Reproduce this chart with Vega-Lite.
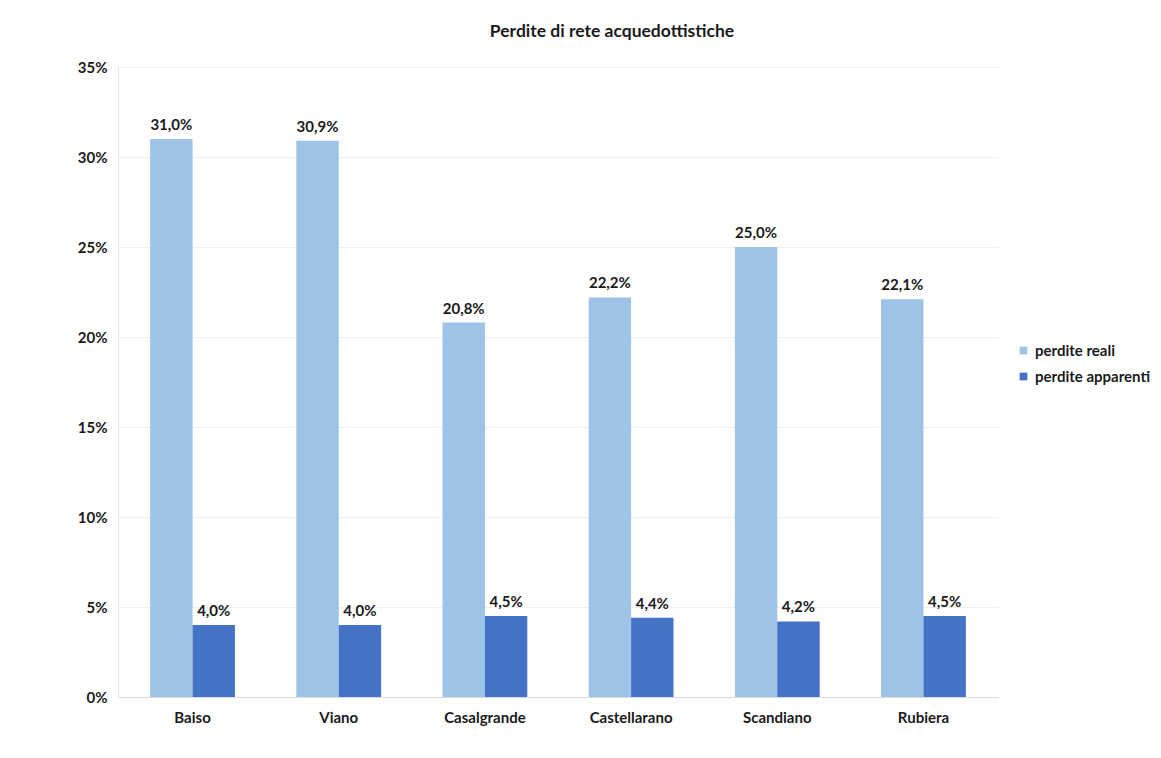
{
  "$schema": "https://vega.github.io/schema/vega-lite/v6.json",
  "autosize": {"type": "none"},
  "width": 880,
  "height": 630,
  "padding": {"left": 118, "top": 67, "right": 163, "bottom": 61},
  "background": "white",
  "config": {
    "locale": {"number": {"decimal": ",", "thousands": ".", "grouping": [3], "currency": ["€", ""]}},
    "font": "Lato",
    "view": {"stroke": null}
  },
  "title": {
    "text": "Perdite di rete acquedottistiche",
    "font": "Lato",
    "fontSize": 17.5,
    "fontWeight": "bold",
    "color": "#1a1a1a",
    "anchor": "middle",
    "offset": 20,
    "dx": 54
  },
  "data": {
    "values": [
      {"comune": "Baiso", "tipo": "perdite reali", "valore": 0.310},
      {"comune": "Baiso", "tipo": "perdite apparenti", "valore": 0.040},
      {"comune": "Viano", "tipo": "perdite reali", "valore": 0.309},
      {"comune": "Viano", "tipo": "perdite apparenti", "valore": 0.040},
      {"comune": "Casalgrande", "tipo": "perdite reali", "valore": 0.208},
      {"comune": "Casalgrande", "tipo": "perdite apparenti", "valore": 0.045},
      {"comune": "Castellarano", "tipo": "perdite reali", "valore": 0.222},
      {"comune": "Castellarano", "tipo": "perdite apparenti", "valore": 0.044},
      {"comune": "Scandiano", "tipo": "perdite reali", "valore": 0.250},
      {"comune": "Scandiano", "tipo": "perdite apparenti", "valore": 0.042},
      {"comune": "Rubiera", "tipo": "perdite reali", "valore": 0.221},
      {"comune": "Rubiera", "tipo": "perdite apparenti", "valore": 0.045}
    ]
  },
  "encoding": {
    "x": {
      "field": "comune",
      "type": "nominal",
      "sort": null,
      "scale": {"paddingInner": 0.42, "paddingOuter": 0.22},
      "axis": {
        "title": null,
        "labelAngle": 0,
        "labelFont": "Lato",
        "labelFontSize": 15,
        "labelFontWeight": "bold",
        "labelColor": "#1a1a1a",
        "labelPadding": 13,
        "ticks": false,
        "domainColor": "#d9d9d9",
        "grid": false
      }
    },
    "xOffset": {"field": "tipo", "type": "nominal", "sort": ["perdite reali", "perdite apparenti"]},
    "y": {
      "field": "valore",
      "type": "quantitative",
      "scale": {"domain": [0, 0.35], "nice": false},
      "axis": {
        "title": null,
        "format": ".0%",
        "values": [0, 0.05, 0.1, 0.15, 0.2, 0.25, 0.3, 0.35],
        "labelFont": "Lato",
        "labelFontSize": 15,
        "labelFontWeight": "bold",
        "labelColor": "#1a1a1a",
        "labelPadding": 11,
        "ticks": false,
        "domainColor": "#e3e3e3",
        "gridColor": "#efefef"
      }
    }
  },
  "layer": [
    {
      "mark": {"type": "bar"},
      "encoding": {
        "color": {
          "field": "tipo",
          "type": "nominal",
          "sort": ["perdite reali", "perdite apparenti"],
          "scale": {"domain": ["perdite reali", "perdite apparenti"], "range": ["#9dc3e6", "#4472c4"]},
          "legend": {
            "title": null,
            "orient": "none",
            "legendX": 898,
            "legendY": 276,
            "symbolType": "square",
            "symbolSize": 60,
            "labelFont": "Lato",
            "labelFontSize": 15,
            "labelFontWeight": "bold",
            "labelColor": "#1a1a1a",
            "rowPadding": 10,
            "labelOffset": 4
          }
        }
      }
    },
    {
      "mark": {"type": "text", "baseline": "bottom", "dy": -6, "font": "Lato", "fontSize": 15, "fontWeight": "bold", "color": "#1a1a1a"},
      "encoding": {
        "text": {"field": "valore", "type": "quantitative", "format": ".1%"}
      }
    }
  ]
}
